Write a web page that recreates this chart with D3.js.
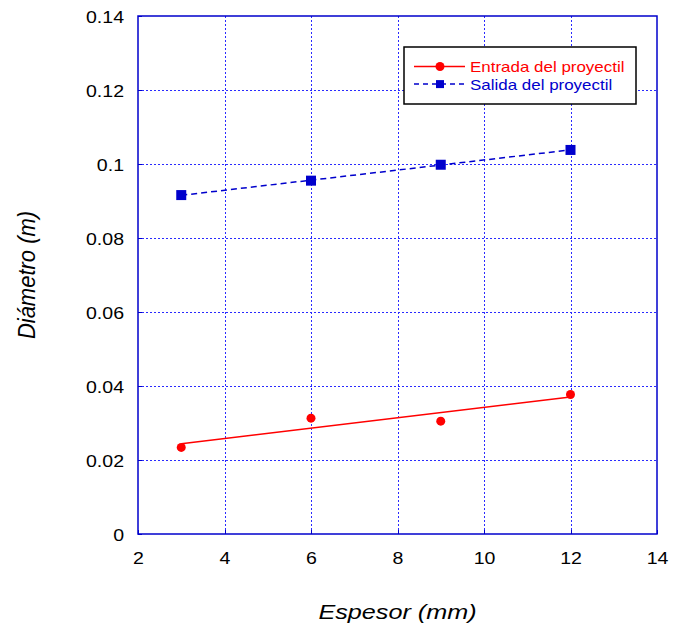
<!DOCTYPE html>
<html>
<head>
<meta charset="utf-8">
<script src="https://cdn.jsdelivr.net/npm/d3@7"></script>
<style>
  html, body { margin: 0; padding: 0; background: #fff; }
  svg text { font-family: Arial, "Liberation Sans", sans-serif; }
</style>
</head>
<body>
<svg id="chart" width="684" height="625"></svg>
<script>
// data
const espesor = [3, 6, 9, 12];
const entrada = [0.0234, 0.0313, 0.0305, 0.0377];
const salida  = [0.0916, 0.0955, 0.0998, 0.1038];

const xTicks = [2, 4, 6, 8, 10, 12, 14];
const yTicks = [0, 0.02, 0.04, 0.06, 0.08, 0.1, 0.12, 0.14];

const red  = '#ff0000';
const blue = '#0000cc';
const grid = '#2a2aff';
const stretch = 1.15; // text in the reference is a bit wide

const margin = {left: 138, right: 27, top: 16, bottom: 91};
const width  = 684 - margin.left - margin.right;
const height = 625 - margin.top - margin.bottom;

const svg = d3.select('#chart');
const g = svg.append('g').attr('transform', `translate(${margin.left},${margin.top})`);

const x = d3.scaleLinear().domain([2, 14]).range([0, width]);
const y = d3.scaleLinear().domain([0, 0.14]).range([height, 0]);

// least squares line, like the fit in the original plot
function fit(xs, ys) {
  const mx = d3.mean(xs), my = d3.mean(ys);
  const num = d3.sum(xs, (v, i) => (v - mx) * (ys[i] - my));
  const den = d3.sum(xs, v => (v - mx) * (v - mx));
  const b = num / den;
  const a = my - b * mx;
  return v => a + b * v;
}

const px = v => Math.round(v) + 0.5;

// grid
g.append('g')
  .selectAll('line')
  .data(xTicks.slice(1, -1))
  .enter()
  .append('line')
  .attr('x1', d => px(x(d))).attr('x2', d => px(x(d)))
  .attr('y1', 0).attr('y2', height)
  .attr('stroke', grid)
  .attr('stroke-width', 1)
  .attr('shape-rendering', 'crispEdges')
  .attr('stroke-dasharray', '2,2');

g.append('g')
  .selectAll('line')
  .data(yTicks.slice(1, -1))
  .enter()
  .append('line')
  .attr('x1', 0).attr('x2', width)
  .attr('y1', d => px(y(d))).attr('y2', d => px(y(d)))
  .attr('stroke', grid)
  .attr('stroke-width', 1)
  .attr('shape-rendering', 'crispEdges')
  .attr('stroke-dasharray', '2,2');

// axes with inner ticks
const xAxis = g.append('g')
  .attr('transform', `translate(0,${height})`)
  .call(d3.axisBottom(x).tickValues(xTicks).tickSizeInner(-4).tickSizeOuter(0).tickPadding(0));
const yAxis = g.append('g')
  .call(d3.axisLeft(y).tickValues(yTicks).tickSizeInner(-4).tickSizeOuter(0).tickFormat(d3.format('')));

[xAxis, yAxis].forEach(ax => {
  ax.select('.domain').remove();
  ax.selectAll('.tick line').attr('stroke', blue).attr('shape-rendering', 'crispEdges');
  ax.selectAll('.tick text')
    .attr('fill', '#000')
    .style('font-size', '17px')
    .attr('dy', null);
});
xAxis.selectAll('.tick text')
  .attr('y', 30)
  .attr('transform', `scale(${stretch},1)`);
yAxis.selectAll('.tick text')
  .attr('x', -14 / stretch)
  .attr('y', 6)
  .attr('transform', `scale(${stretch},1)`);

// frame
g.append('rect')
  .attr('width', width)
  .attr('height', height)
  .attr('fill', 'none')
  .attr('stroke', blue)
  .attr('stroke-width', 1.5);

// fit lines
const series = [
  {name: 'Entrada del proyectil', values: entrada, color: red, dash: null, shape: 'circle'},
  {name: 'Salida del proyectil', values: salida, color: blue, dash: '6,4', shape: 'square'}
];

series.forEach(s => {
  const f = fit(espesor, s.values);
  const ends = [d3.min(espesor), d3.max(espesor)];
  g.append('line')
    .attr('x1', x(ends[0])).attr('y1', y(f(ends[0])))
    .attr('x2', x(ends[1])).attr('y2', y(f(ends[1])))
    .attr('stroke', s.color)
    .attr('stroke-width', 1.5)
    .attr('stroke-dasharray', s.dash);

  const pts = g.append('g')
    .selectAll('.pt')
    .data(espesor.map((v, i) => [v, s.values[i]]))
    .enter();
  if (s.shape === 'circle') {
    pts.append('circle')
      .attr('cx', d => x(d[0]))
      .attr('cy', d => y(d[1]))
      .attr('r', 4.5)
      .attr('fill', s.color);
  } else {
    pts.append('rect')
      .attr('x', d => x(d[0]) - 5)
      .attr('y', d => y(d[1]) - 5)
      .attr('width', 10)
      .attr('height', 10)
      .attr('fill', s.color);
  }
});

// legend
const legend = svg.append('g').attr('transform', 'translate(404,47)');
legend.append('rect')
  .attr('width', 232)
  .attr('height', 57)
  .attr('fill', '#fff')
  .attr('stroke', '#000')
  .attr('stroke-width', 1.5);

series.forEach((s, i) => {
  const ly = 19.5 + i * 17.6;
  legend.append('line')
    .attr('x1', 10).attr('x2', 61)
    .attr('y1', ly).attr('y2', ly)
    .attr('stroke', s.color)
    .attr('stroke-width', 1.5)
    .attr('stroke-dasharray', s.dash ? '5,4' : null);
  if (s.shape === 'circle') {
    legend.append('circle').attr('cx', 36).attr('cy', ly).attr('r', 4.5).attr('fill', s.color);
  } else {
    legend.append('rect').attr('x', 32).attr('y', ly - 4).attr('width', 8).attr('height', 8).attr('fill', s.color);
  }
  legend.append('text')
    .attr('transform', `translate(66,${ly + 5.5}) scale(1.13,1)`)
    .attr('fill', s.color)
    .style('font-size', '15px')
    .text(s.name);
});

// axis titles
svg.append('text')
  .attr('transform', `translate(${margin.left + width / 2},619) scale(1.2,1)`)
  .attr('text-anchor', 'middle')
  .style('font-size', '21px')
  .style('font-style', 'italic')
  .text('Espesor (mm)');

svg.append('text')
  .attr('transform', `translate(35,${margin.top + height / 2}) scale(1.1,1) rotate(-90)`)
  .attr('text-anchor', 'middle')
  .style('font-size', '22px')
  .style('font-style', 'italic')
  .text('Diámetro (m)');
</script>
</body>
</html>
